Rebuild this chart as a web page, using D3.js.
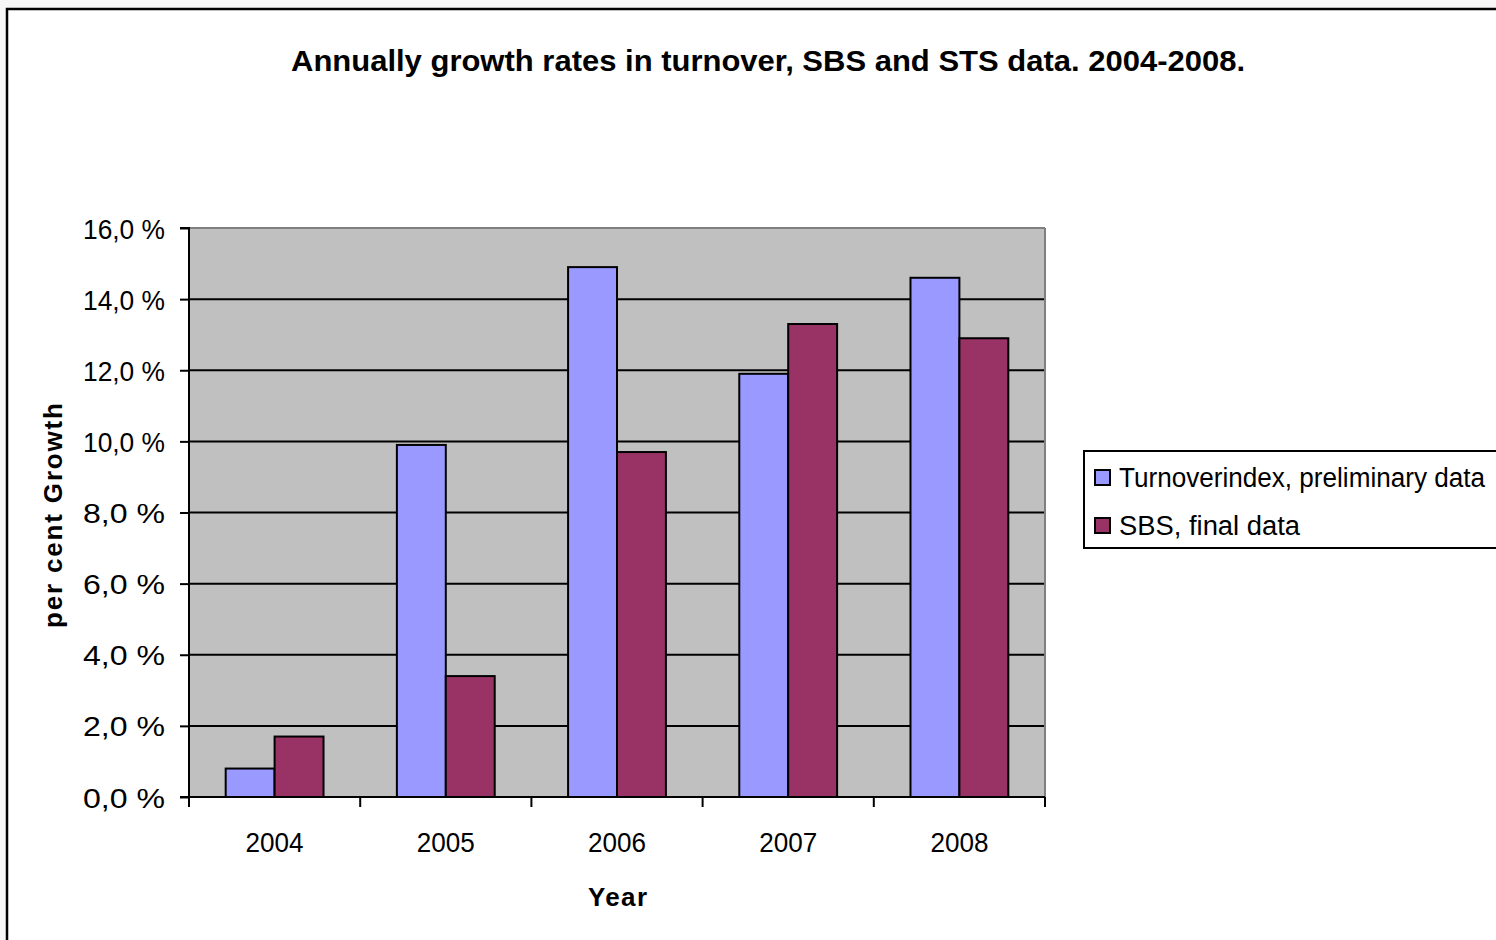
<!DOCTYPE html>
<html><head><meta charset="utf-8">
<script src="https://cdn.jsdelivr.net/npm/d3@7"></script>
<style>html,body{margin:0;padding:0;background:#f7f7f7;overflow:hidden}</style>
</head><body>
<script>
const years = ["2004","2005","2006","2007","2008"];
const turnover = [0.8, 9.9, 14.9, 11.9, 14.6];
const sbs = [1.7, 3.4, 9.7, 13.3, 12.9];
const seriesNames = ["Turnoverindex, preliminary data", "SBS, final data"];
const seriesColors = ["#9999ff", "#993366"];
const yTicks = [0,2,4,6,8,10,12,14,16];
const title = "Annually growth rates in turnover, SBS and STS data. 2004-2008.";

const W = 1496, H = 940;
const svg = d3.select("body").append("svg").attr("width", W).attr("height", H);
svg.append("rect").attr("x",7).attr("y",9).attr("width",W+10).attr("height",H+10)
  .attr("fill","#fff").attr("stroke","#000").attr("stroke-width",2.5);

const font = "'Liberation Sans', Arial, sans-serif";
svg.append("text").attr("x",768).attr("y",71).attr("text-anchor","middle")
  .attr("font-family",font).attr("font-weight","bold").attr("font-size",29)
  .attr("textLength",954).attr("lengthAdjust","spacingAndGlyphs").text(title);

const L = 189, R = 1045, T = 228, B = 797;
const x0 = d3.scaleBand().domain(years).range([L,R]).paddingInner(0).paddingOuter(0);
const x1 = d3.scaleBand().domain([0,1]).range([0,x0.bandwidth()]).paddingInner(0).paddingOuter(0.75);
const y = d3.scaleLinear().domain([0,16]).range([B,T]);

svg.append("rect").attr("x",L).attr("y",T).attr("width",R-L).attr("height",B-T).attr("fill","#c0c0c0");
// gridlines
svg.append("g").selectAll("line").data(yTicks.slice(1)).join("line")
  .attr("x1",L).attr("x2",R).attr("y1",d=>y(d)).attr("y2",d=>y(d))
  .attr("stroke","#000").attr("stroke-width",2);
svg.append("line").attr("x1",L).attr("x2",R).attr("y1",T).attr("y2",T).attr("stroke","#808080").attr("stroke-width",2);
svg.append("line").attr("x1",R).attr("x2",R).attr("y1",T).attr("y2",B).attr("stroke","#808080").attr("stroke-width",2);

const data = [turnover, sbs];
years.forEach((yr,i)=>{
  data.forEach((s,j)=>{
    svg.append("rect").attr("x",x0(yr)+x1(j)).attr("y",y(s[i]))
      .attr("width",x1.bandwidth()).attr("height",B-y(s[i]))
      .attr("fill",seriesColors[j]).attr("stroke","#000").attr("stroke-width",2);
  });
});

// y axis
const yAxis = d3.axisLeft(y).tickValues(yTicks).tickSize(9).tickPadding(14)
  .tickFormat(d=>d3.format(".1f")(d).replace(".",",")+" %");
const ga = svg.append("g").attr("transform",`translate(${L},0)`).call(yAxis);
ga.select(".domain").attr("stroke","#000").attr("stroke-width",2).attr("d",`M-9,${T}H0V${B}H-9`);
ga.selectAll(".tick line").attr("stroke","#000").attr("stroke-width",2);
ga.selectAll("text").attr("font-family",font).attr("font-size",27).attr("fill","#000")
  .attr("dy","0.37em").attr("x",-24).attr("textLength",82).attr("lengthAdjust","spacingAndGlyphs");

// x axis
const xt = d3.scaleLinear().domain([0,5]).range([L,R]);
const gx = svg.append("g").attr("transform",`translate(0,${B})`);
gx.append("line").attr("x1",L).attr("x2",R).attr("stroke","#000").attr("stroke-width",2);
gx.selectAll("line.t").data(d3.range(6)).join("line").attr("class","t")
  .attr("x1",d=>xt(d)).attr("x2",d=>xt(d)).attr("y1",0).attr("y2",10).attr("stroke","#000").attr("stroke-width",2);
gx.selectAll("text").data(years).join("text")
  .attr("x",d=>x0(d)+x0.bandwidth()/2).attr("y",55).attr("text-anchor","middle")
  .attr("font-family",font).attr("font-size",27)
  .attr("textLength",58).attr("lengthAdjust","spacingAndGlyphs").text(d=>d);

svg.append("text").attr("x",617.5).attr("y",906).attr("text-anchor","middle")
  .attr("font-family",font).attr("font-weight","bold").attr("font-size",26)
  .attr("textLength",59).attr("lengthAdjust","spacing").text("Year");
svg.append("text").attr("transform","translate(62,515.5) rotate(-90)").attr("text-anchor","middle")
  .attr("font-family",font).attr("font-weight","bold").attr("font-size",26)
  .attr("textLength",225).attr("lengthAdjust","spacing").text("per cent Growth");

// legend
const lg = svg.append("g");
lg.append("rect").attr("x",1084).attr("y",451).attr("width",450).attr("height",97)
  .attr("fill","#fff").attr("stroke","#000").attr("stroke-width",2);
seriesNames.forEach((n,i)=>{
  const base = 487 + i*48;
  lg.append("rect").attr("x",1095).attr("y",base-17).attr("width",15).attr("height",15)
    .attr("fill",seriesColors[i]).attr("stroke","#000").attr("stroke-width",2);
  const t = lg.append("text").attr("x",1119).attr("y",base).attr("font-family",font).attr("font-size",27).text(n);
  if (i===0) t.attr("textLength",366).attr("lengthAdjust","spacingAndGlyphs");
  else t.attr("textLength",181).attr("lengthAdjust","spacingAndGlyphs");
});
</script>
</body></html>
